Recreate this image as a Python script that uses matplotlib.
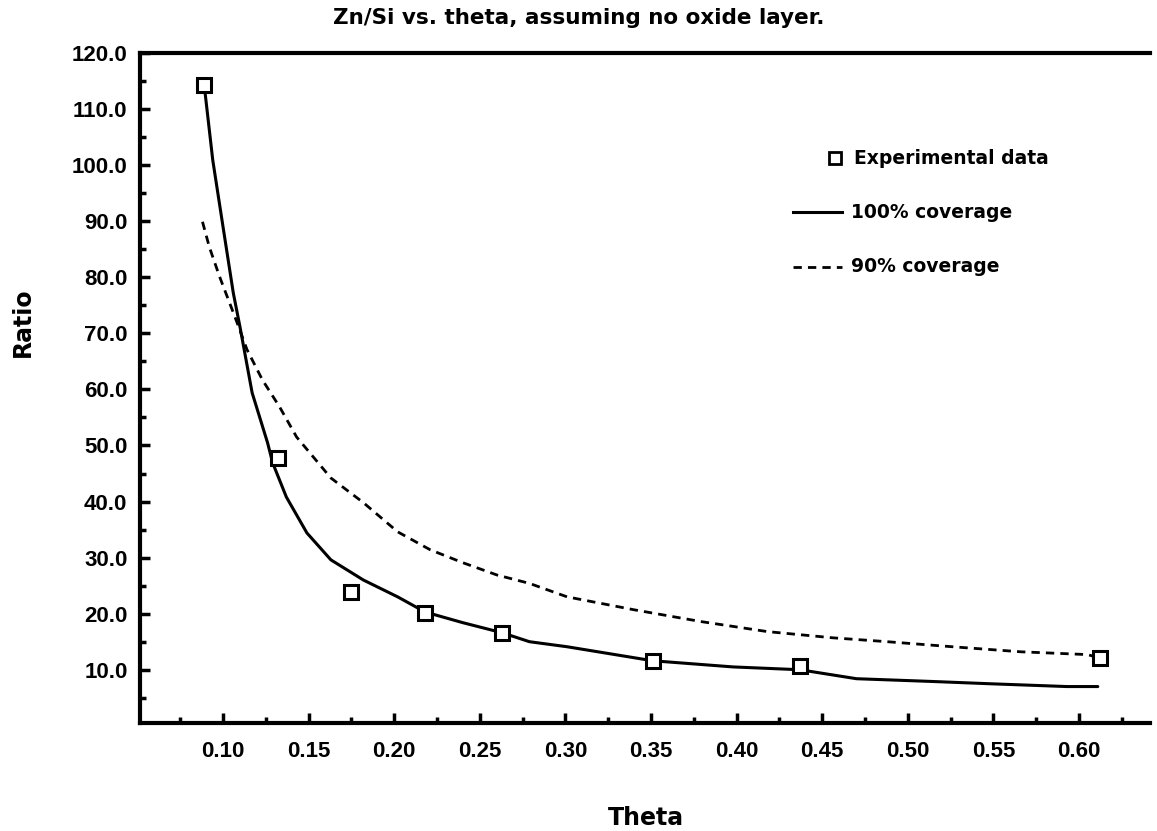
import matplotlib
matplotlib.use("Agg")
import matplotlib.pyplot as plt
from matplotlib.ticker import FixedLocator, FormatStrFormatter
from matplotlib.font_manager import FontProperties

# ---- data ----
theta_exp = [0.089, 0.132, 0.175, 0.218, 0.263, 0.351, 0.437, 0.612]
ratio_exp = [114.3, 47.8, 23.9, 20.2, 16.6, 11.6, 10.7, 12.1]

theta_100 = [0.089, 0.094, 0.100, 0.106, 0.110, 0.117, 0.126, 0.129, 0.137,
             0.149, 0.163, 0.182, 0.202, 0.218, 0.240, 0.263, 0.279, 0.301,
             0.351, 0.398, 0.437, 0.470, 0.515, 0.548, 0.593, 0.611]
ratio_100 = [114.3, 100.9, 89.0, 77.2, 71.0, 59.4, 50.5, 46.9, 40.8,
             34.4, 29.6, 26.0, 23.0, 20.3, 18.4, 16.6, 15.0, 14.1,
             11.6, 10.5, 10.0, 8.4, 7.9, 7.5, 7.0, 7.0]

theta_90 = [0.088, 0.092, 0.098, 0.107, 0.114, 0.123, 0.133, 0.143, 0.163,
            0.182, 0.202, 0.221, 0.240, 0.260, 0.279, 0.301, 0.340, 0.379,
            0.418, 0.456, 0.488, 0.526, 0.566, 0.605, 0.612]
ratio_90 = [89.9, 85.4, 80.1, 72.9, 67.1, 61.7, 56.9, 51.5, 44.2,
            39.8, 34.6, 31.4, 29.1, 26.9, 25.4, 23.0, 20.7, 18.6,
            16.8, 15.7, 15.0, 14.1, 13.2, 12.7, 12.1]

x_ticks = [0.10, 0.15, 0.20, 0.25, 0.30, 0.35, 0.40, 0.45, 0.50, 0.55, 0.60]
x_minor = [0.075, 0.125, 0.175, 0.225, 0.275, 0.325, 0.375, 0.425, 0.475,
           0.525, 0.575, 0.625]
y_ticks = [10, 20, 30, 40, 50, 60, 70, 80, 90, 100, 110, 120]
y_minor = [5, 15, 25, 35, 45, 55, 65, 75, 85, 95, 105, 115]

title = "Zn/Si vs. theta, assuming no oxide layer."
labels = ["Experimental data", "100% coverage", "90% coverage"]

# ---- figure ----
W, H = 1157, 831
fig = plt.figure(figsize=(W / 100, H / 100), dpi=100)
L, R, T, B = 140, 1150, 53, 723
ax = fig.add_axes([L / W, 1 - B / H, (R - L) / W, (B - T) / H])

ax.plot(theta_100, ratio_100, color="black", lw=2.2, solid_joinstyle="round",
        solid_capstyle="round", zorder=3)
ax.plot(theta_90, ratio_90, color="black", lw=2.0, dashes=(3, 2.2), zorder=3)
ax.plot(theta_exp, ratio_exp, ls="none", marker="s", ms=9.5, mfc="white",
        mec="black", mew=2.2, zorder=4)

ax.set_xlim(0.0515, 0.6415)
ax.set_ylim(0.5, 120)
ax.set_xticks(x_ticks)
ax.set_yticks(y_ticks)
ax.xaxis.set_minor_locator(FixedLocator(x_minor))
ax.yaxis.set_minor_locator(FixedLocator(y_minor))
ax.xaxis.set_major_formatter(FormatStrFormatter("%.2f"))
ax.yaxis.set_major_formatter(FormatStrFormatter("%.1f"))

tickfont = FontProperties(family="Liberation Sans", weight="bold", size=16)
for lab in ax.get_xticklabels() + ax.get_yticklabels():
    lab.set_fontproperties(tickfont)

ax.tick_params(which="major", direction="in", length=7, width=2.5,
               color="black", top=False, right=False)
ax.tick_params(which="minor", direction="in", length=4.5, width=2.5,
               color="black", top=False, right=False)
ax.tick_params(axis="x", which="major", pad=13)
ax.tick_params(axis="y", which="major", pad=9)

for s in ["left", "bottom", "top"]:
    ax.spines[s].set_linewidth(3.0)
ax.spines["right"].set_visible(False)

# titles / axis labels
fig.text(0.5, 1 - 18 / H, title, ha="center", va="center",
         family="DejaVu Sans", weight="bold", fontsize=15.5)
fig.text(646 / W, 1 - 818 / H, "Theta", ha="center", va="center",
         family="DejaVu Sans", weight="bold", fontsize=17)
fig.text(23 / W, 1 - 322 / H, "Ratio", ha="center", va="center",
         rotation=90, family="DejaVu Sans", weight="bold", fontsize=17)

# legend (manual layout, axes-fraction positions)
def ax_xy(px, py):
    return (px - L) / (R - L), (B - py) / (B - T)

lf = dict(family="DejaVu Sans", weight="bold", fontsize=13.5)
x0, y0 = ax_xy(835, 158)
ax.plot([x0], [y0], transform=ax.transAxes, ls="none", marker="s", ms=8,
        mfc="white", mec="black", mew=2.0, clip_on=False)
tx, _ = ax_xy(854, 158)
ax.text(tx, y0, labels[0], transform=ax.transAxes, va="center", ha="left", **lf)

xa, y1 = ax_xy(793, 212)
xb, _ = ax_xy(842, 212)
ax.plot([xa, xb], [y1, y1], transform=ax.transAxes, color="black", lw=2.2)
tx2, _ = ax_xy(851, 212)
ax.text(tx2, y1, labels[1], transform=ax.transAxes, va="center", ha="left", **lf)

_, y2 = ax_xy(793, 267)
ax.plot([xa, xb], [y2, y2], transform=ax.transAxes, color="black", lw=2.0,
        dashes=(3, 2.2))
ax.text(tx2, y2, labels[2], transform=ax.transAxes, va="center", ha="left", **lf)

fig.savefig("out.png", dpi=100)
